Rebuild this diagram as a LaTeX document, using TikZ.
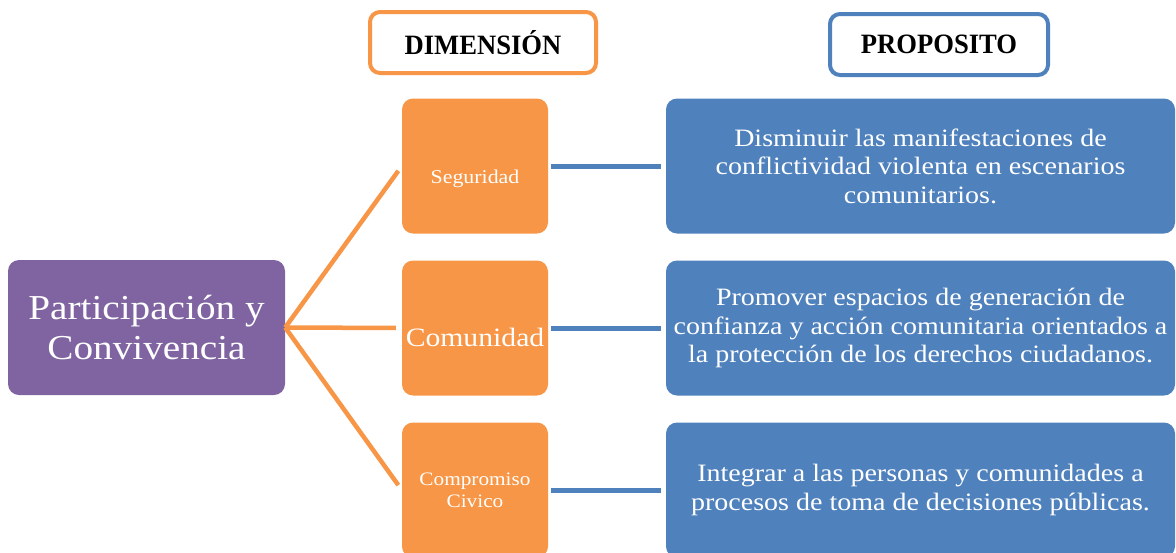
\documentclass[tikz,border=0pt]{standalone}
\usepackage{fontspec}
\setmainfont{Liberation Serif}[FakeStretch=1.12]
\newfontfamily\headfont{Liberation Serif}[FakeStretch=0.95]
\usetikzlibrary{positioning}
\definecolor{dimorange}{HTML}{F79646}
\definecolor{propblue}{HTML}{4F81BD}
\definecolor{mainpurple}{HTML}{8064A2}

\begin{document}
\begin{tikzpicture}[x=1pt, y=-1pt,
    box/.style={rounded corners=11pt, inner sep=0pt, align=center, text=white, minimum height=135pt},
    dimbox/.style={box, fill=dimorange, minimum width=146pt},
    propbox/.style={box, fill=propblue, minimum width=509pt, font=\fontsize{25}{28.5}\selectfont},
    headbox/.style={draw, line width=4pt, rounded corners=10pt, minimum height=61pt, inner sep=0pt, font=\headfont\bfseries\fontsize{28}{30}\selectfont},
    orangeline/.style={dimorange, line width=4.5pt, shorten >=6pt},
    blueline/.style={propblue, line width=5pt, shorten <=3pt, shorten >=5pt}]

    \useasboundingbox (0,0) rectangle (1176,552);
    \clip (0,0) rectangle (1176,552);

    % Column headers
    \node[headbox, dimorange, text=black, minimum width=226pt] (hdim) at (483,42.5) {DIMENSIÓN};
    \node[headbox, propblue, text=black, minimum width=218pt] (hprop) at (939,44.5) {PROPOSITO};

    % Main theme
    \node[box, fill=mainpurple, minimum width=277pt, font=\fontsize{35}{39.5}\selectfont] (part) at (146.5,327.5) {Participación y\\Convivencia};

    % Dimensions (text sits a little below the middle)
    \node[dimbox, text height=39pt, font=\fontsize{19.5}{22}\selectfont] (seg) at (475,166) {Seguridad};
    \node[dimbox, text height=37pt, font=\fontsize{26.5}{30}\selectfont] (com) at (475,328) {Comunidad};
    \node[dimbox, font=\fontsize{19}{22}\selectfont] (civ) at (475,490) {Compromiso\\Civico};

    % Purposes
    \node[propbox] (pseg) at (920.5,166) {Disminuir las manifestaciones de\\conflictividad violenta en escenarios\\comunitarios.};
    \node[propbox] (pcom) at (920.5,328) {Promover espacios de generación de\\confianza y acción comunitaria orientados a\\la protección de los derechos ciudadanos.};
    \node[propbox] (pciv) at (920.5,490) {Integrar a las personas y comunidades a\\procesos de toma de decisiones públicas.};

    % Connectors
    \draw[orangeline] (part.east) -- (seg.west);
    \draw[orangeline] (part.east) -- (com.west);
    \draw[orangeline] (part.east) -- (civ.west);
    \draw[blueline] (seg.east) -- (pseg.west);
    \draw[blueline] (com.east) -- (pcom.west);
    \draw[blueline] (civ.east) -- (pciv.west);

\end{tikzpicture}
\end{document}
